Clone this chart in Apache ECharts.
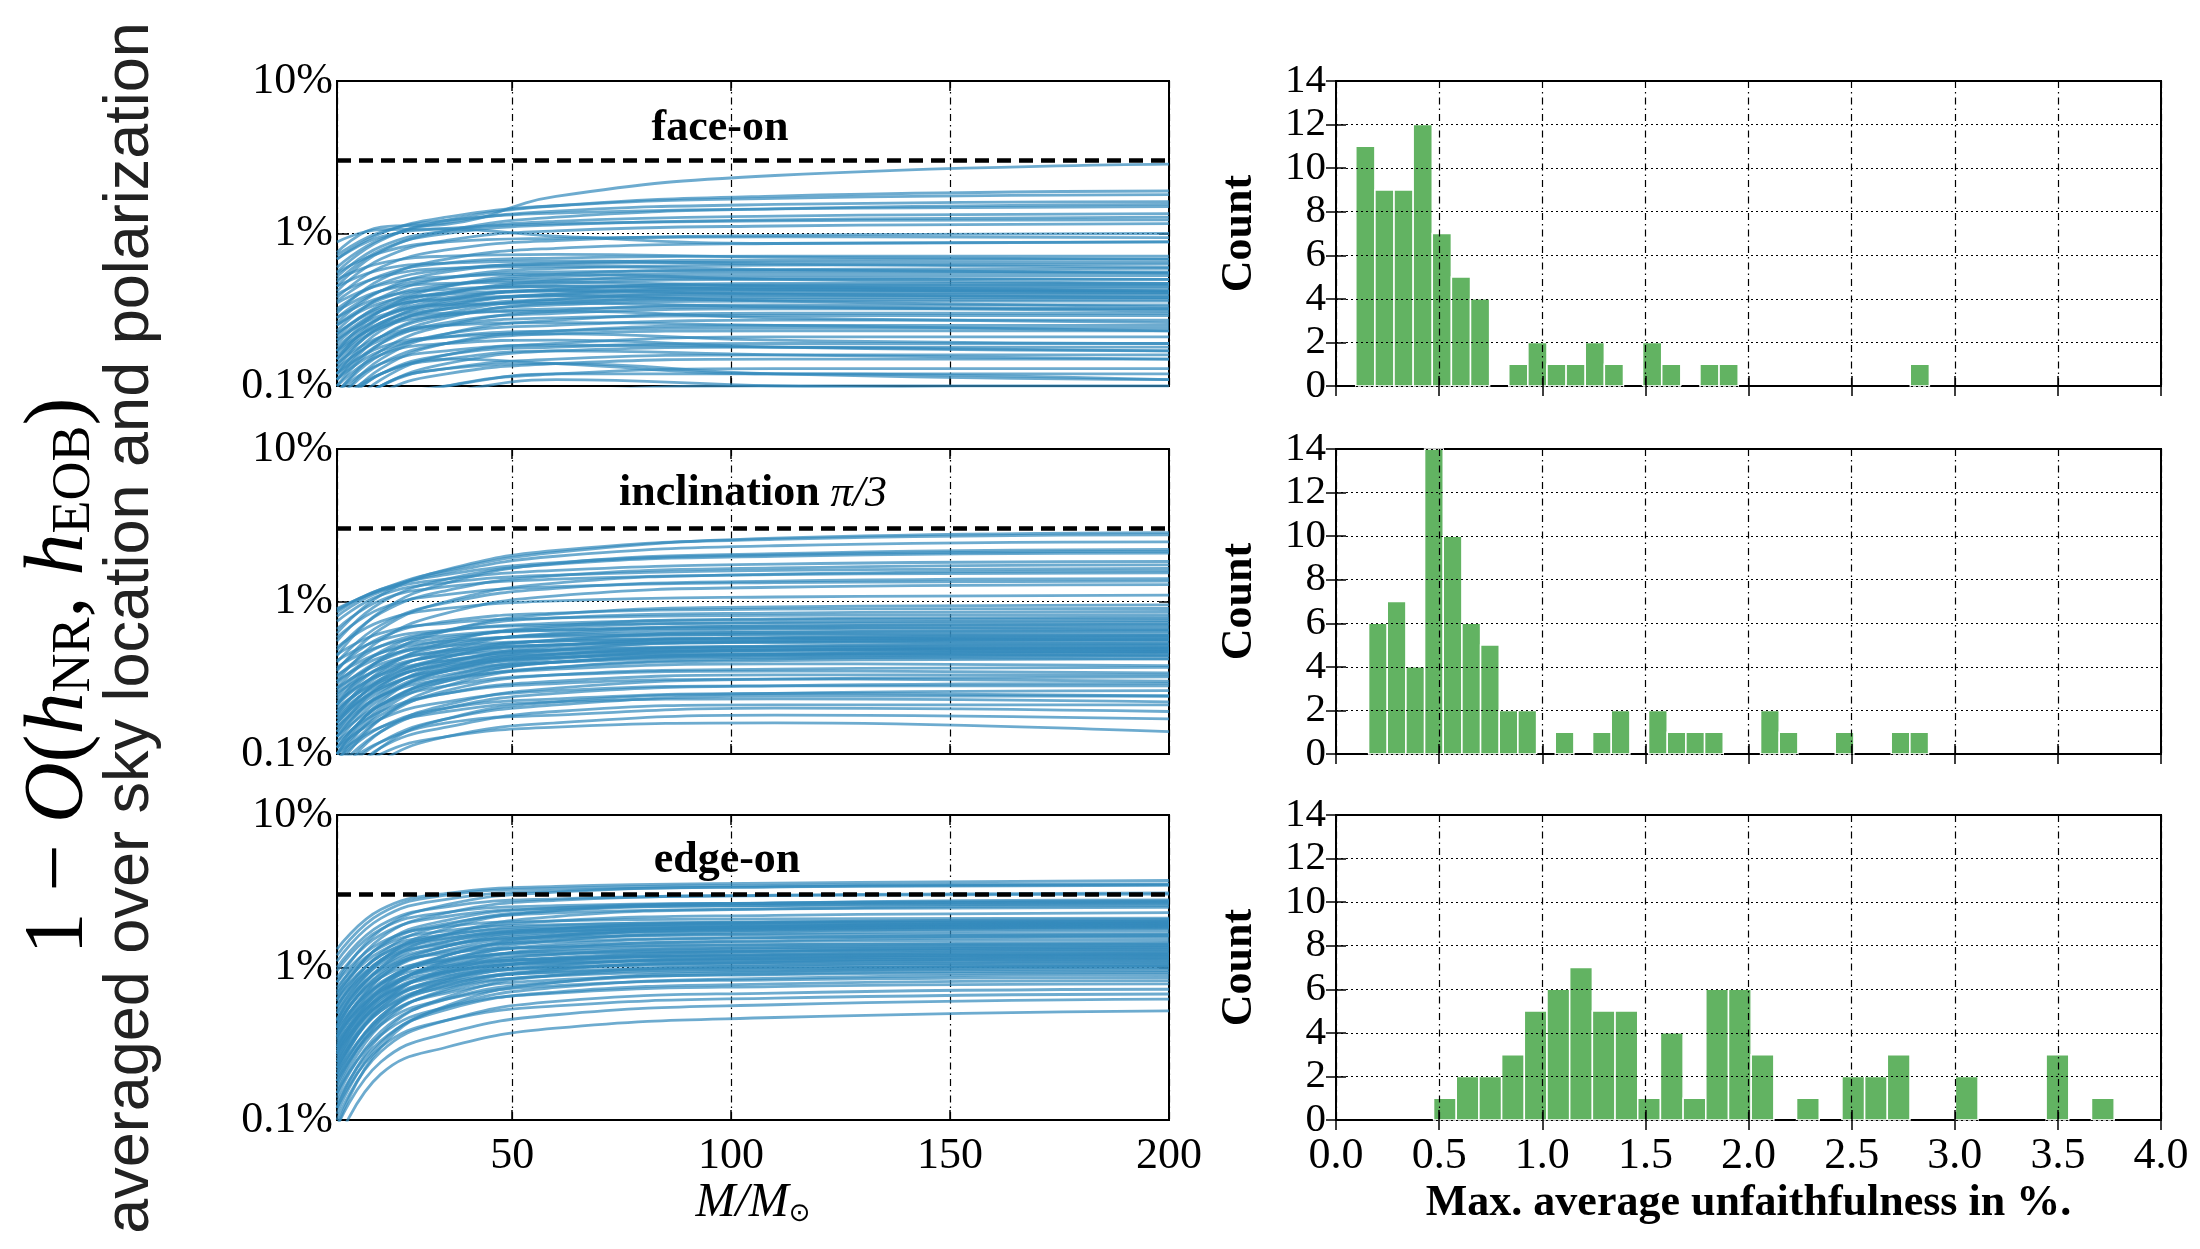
<!DOCTYPE html>
<html lang="en">
<head>
    <meta charset="UTF-8">
    <title>Unfaithfulness vs total mass</title>
    <script src="https://cdn.jsdelivr.net/npm/echarts@6/dist/echarts.min.js"></script>
    <style>
        html, body { margin: 0; padding: 0; background: #fff; }
        #chart { width: 2200px; height: 1249px; }
    </style>
</head>
<body>
<div id="chart"></div>
<script>
    const masses = [10, 20, 35, 60, 110, 200];

    // 1 - O(h_NR, h_EOB) in %, one row per NR waveform
    const faceOn = [
        [0.03, 0.05, 0.07, 0.09, 0.10, 0.10], [0.04, 0.07, 0.09, 0.11, 0.10, 0.09],
        [0.05, 0.08, 0.10, 0.12, 0.12, 0.11], [0.04, 0.07, 0.10, 0.12, 0.13, 0.13],
        [0.06, 0.10, 0.13, 0.14, 0.12, 0.11], [0.05, 0.09, 0.12, 0.14, 0.15, 0.15],
        [0.08, 0.12, 0.15, 0.14, 0.12, 0.12], [0.05, 0.10, 0.13, 0.15, 0.16, 0.16],
        [0.07, 0.12, 0.15, 0.17, 0.16, 0.15], [0.06, 0.10, 0.14, 0.17, 0.18, 0.18],
        [0.09, 0.14, 0.17, 0.185, 0.18, 0.17], [0.07, 0.12, 0.16, 0.18, 0.19, 0.19],
        [0.10, 0.16, 0.19, 0.20, 0.18, 0.17], [0.06, 0.11, 0.16, 0.19, 0.21, 0.21],
        [0.12, 0.18, 0.21, 0.22, 0.20, 0.19], [0.08, 0.14, 0.19, 0.22, 0.23, 0.23],
        [0.11, 0.17, 0.21, 0.23, 0.24, 0.24], [0.07, 0.13, 0.19, 0.23, 0.25, 0.25],
        [0.14, 0.21, 0.25, 0.26, 0.25, 0.23], [0.09, 0.16, 0.22, 0.25, 0.27, 0.27],
        [0.13, 0.20, 0.25, 0.28, 0.29, 0.29], [0.08, 0.15, 0.22, 0.27, 0.30, 0.30],
        [0.17, 0.25, 0.30, 0.31, 0.28, 0.26], [0.11, 0.19, 0.26, 0.30, 0.32, 0.32],
        [0.15, 0.24, 0.29, 0.32, 0.33, 0.32], [0.09, 0.17, 0.25, 0.31, 0.34, 0.34],
        [0.20, 0.29, 0.34, 0.35, 0.33, 0.31], [0.12, 0.21, 0.29, 0.34, 0.36, 0.36],
        [0.16, 0.26, 0.32, 0.36, 0.37, 0.37], [0.10, 0.19, 0.28, 0.35, 0.38, 0.38],
        [0.22, 0.32, 0.37, 0.39, 0.36, 0.33], [0.14, 0.24, 0.32, 0.37, 0.39, 0.39],
        [0.18, 0.28, 0.35, 0.39, 0.40, 0.40], [0.11, 0.21, 0.30, 0.37, 0.41, 0.41],
        [0.25, 0.35, 0.40, 0.42, 0.40, 0.38], [0.15, 0.26, 0.34, 0.40, 0.42, 0.42],
        [0.20, 0.31, 0.38, 0.42, 0.43, 0.42], [0.12, 0.23, 0.33, 0.40, 0.44, 0.44],
        [0.28, 0.38, 0.43, 0.45, 0.43, 0.41], [0.17, 0.28, 0.37, 0.43, 0.45, 0.45],
        [0.22, 0.33, 0.41, 0.45, 0.46, 0.46], [0.13, 0.25, 0.36, 0.43, 0.47, 0.47],
        [0.31, 0.42, 0.47, 0.48, 0.45, 0.42], [0.19, 0.31, 0.41, 0.47, 0.50, 0.50],
        [0.25, 0.37, 0.46, 0.50, 0.51, 0.50], [0.15, 0.28, 0.40, 0.49, 0.53, 0.53],
        [0.35, 0.46, 0.52, 0.54, 0.50, 0.47], [0.21, 0.34, 0.45, 0.52, 0.55, 0.55],
        [0.28, 0.42, 0.51, 0.56, 0.57, 0.56], [0.17, 0.31, 0.45, 0.54, 0.58, 0.59],
        [0.40, 0.52, 0.59, 0.61, 0.58, 0.55], [0.23, 0.38, 0.51, 0.59, 0.62, 0.63],
        [0.32, 0.47, 0.58, 0.63, 0.65, 0.65], [0.45, 0.58, 0.64, 0.66, 0.63, 0.60],
        [0.26, 0.42, 0.56, 0.64, 0.67, 0.68], [0.36, 0.53, 0.64, 0.69, 0.71, 0.71],
        [0.50, 0.64, 0.71, 0.73, 0.70, 0.68], [0.30, 0.50, 0.68, 0.80, 0.86, 0.88],
        [0.55, 0.75, 0.88, 0.93, 0.95, 0.94], [0.38, 0.60, 0.78, 0.90, 0.97, 1.00],
        [0.88, 1.06, 1.07, 0.96, 0.86, 0.88], [0.42, 0.68, 0.90, 1.04, 1.12, 1.16],
        [0.68, 0.95, 1.08, 1.16, 1.21, 1.23], [0.48, 0.78, 1.00, 1.14, 1.23, 1.28],
        [0.52, 0.82, 1.04, 1.20, 1.30, 1.35], [0.72, 1.02, 1.22, 1.36, 1.45, 1.50],
        [0.45, 0.76, 1.04, 1.28, 1.45, 1.55], [0.60, 0.92, 1.18, 1.40, 1.55, 1.62],
        [0.68, 1.00, 1.28, 1.52, 1.70, 1.80], [0.56, 0.90, 1.22, 1.52, 1.76, 1.90],
        [0.75, 1.10, 1.15, 1.75, 2.40, 2.85]
    ];

    const inclined = [
        [0.06, 0.10, 0.13, 0.15, 0.16, 0.14], [0.05, 0.09, 0.13, 0.16, 0.18, 0.17],
        [0.08, 0.12, 0.16, 0.18, 0.20, 0.19], [0.06, 0.11, 0.15, 0.19, 0.21, 0.21],
        [0.10, 0.15, 0.19, 0.22, 0.23, 0.22], [0.07, 0.12, 0.17, 0.21, 0.24, 0.24],
        [0.09, 0.15, 0.20, 0.23, 0.25, 0.24], [0.05, 0.11, 0.17, 0.22, 0.25, 0.26],
        [0.11, 0.17, 0.22, 0.26, 0.28, 0.28], [0.08, 0.14, 0.20, 0.25, 0.28, 0.29],
        [0.12, 0.19, 0.25, 0.29, 0.31, 0.30], [0.07, 0.14, 0.21, 0.27, 0.31, 0.32],
        [0.10, 0.18, 0.25, 0.30, 0.33, 0.33], [0.13, 0.21, 0.28, 0.33, 0.35, 0.34],
        [0.09, 0.17, 0.26, 0.33, 0.36, 0.37], [0.15, 0.24, 0.31, 0.36, 0.39, 0.38],
        [0.11, 0.21, 0.30, 0.37, 0.41, 0.42], [0.17, 0.27, 0.35, 0.40, 0.43, 0.42],
        [0.08, 0.17, 0.28, 0.37, 0.42, 0.44], [0.14, 0.24, 0.33, 0.40, 0.44, 0.45],
        [0.20, 0.30, 0.38, 0.43, 0.45, 0.44], [0.11, 0.21, 0.31, 0.40, 0.45, 0.46],
        [0.16, 0.27, 0.36, 0.43, 0.46, 0.47], [0.09, 0.19, 0.30, 0.40, 0.45, 0.47],
        [0.22, 0.33, 0.41, 0.46, 0.48, 0.47], [0.13, 0.24, 0.35, 0.43, 0.48, 0.49],
        [0.18, 0.29, 0.39, 0.45, 0.48, 0.49], [0.10, 0.20, 0.32, 0.42, 0.48, 0.50],
        [0.25, 0.36, 0.44, 0.48, 0.50, 0.49], [0.15, 0.26, 0.37, 0.45, 0.50, 0.51],
        [0.19, 0.31, 0.41, 0.48, 0.51, 0.52], [0.12, 0.23, 0.35, 0.45, 0.51, 0.53],
        [0.27, 0.39, 0.47, 0.52, 0.54, 0.53], [0.16, 0.28, 0.40, 0.49, 0.54, 0.55],
        [0.21, 0.34, 0.45, 0.52, 0.55, 0.56], [0.10, 0.22, 0.36, 0.48, 0.55, 0.57],
        [0.30, 0.43, 0.51, 0.55, 0.57, 0.56], [0.17, 0.30, 0.43, 0.52, 0.57, 0.58],
        [0.23, 0.37, 0.48, 0.55, 0.58, 0.59], [0.13, 0.25, 0.39, 0.51, 0.58, 0.60],
        [0.33, 0.46, 0.55, 0.59, 0.61, 0.60], [0.19, 0.33, 0.46, 0.56, 0.61, 0.62],
        [0.26, 0.41, 0.53, 0.60, 0.63, 0.64], [0.14, 0.28, 0.43, 0.56, 0.63, 0.65],
        [0.37, 0.51, 0.60, 0.65, 0.67, 0.66], [0.21, 0.37, 0.51, 0.61, 0.66, 0.68],
        [0.29, 0.46, 0.58, 0.65, 0.69, 0.70], [0.16, 0.31, 0.48, 0.62, 0.69, 0.71],
        [0.41, 0.56, 0.65, 0.70, 0.72, 0.73], [0.24, 0.41, 0.56, 0.67, 0.73, 0.75],
        [0.32, 0.51, 0.64, 0.72, 0.76, 0.77], [0.18, 0.35, 0.54, 0.69, 0.77, 0.79],
        [0.45, 0.62, 0.72, 0.78, 0.81, 0.82], [0.27, 0.47, 0.65, 0.78, 0.84, 0.86],
        [0.36, 0.58, 0.74, 0.84, 0.89, 0.90], [0.21, 0.42, 0.64, 0.83, 0.92, 0.95],
        [0.50, 0.74, 0.90, 1.01, 1.07, 1.10], [0.30, 0.56, 0.84, 1.09, 1.24, 1.29],
        [0.58, 0.90, 1.11, 1.25, 1.33, 1.36], [0.40, 0.70, 0.98, 1.22, 1.36, 1.41],
        [0.66, 1.02, 1.25, 1.40, 1.50, 1.54], [0.35, 0.66, 1.00, 1.32, 1.51, 1.59],
        [0.74, 1.10, 1.33, 1.49, 1.60, 1.65], [0.48, 0.84, 1.18, 1.48, 1.66, 1.74],
        [0.80, 1.16, 1.40, 1.60, 1.76, 1.83], [0.55, 0.98, 1.40, 1.76, 1.98, 2.08],
        [0.85, 1.20, 1.50, 1.80, 2.02, 2.13], [0.44, 0.86, 1.32, 1.78, 2.06, 2.20],
        [0.90, 1.18, 1.55, 1.98, 2.32, 2.46], [0.62, 1.10, 1.62, 2.16, 2.56, 2.74],
        [0.88, 1.20, 1.60, 2.10, 2.60, 2.83]
    ];

    const edgeOn = [
        [0.07, 0.20, 0.30, 0.40, 0.47, 0.52], [0.09, 0.24, 0.37, 0.49, 0.57, 0.62],
        [0.12, 0.30, 0.45, 0.56, 0.63, 0.67], [0.10, 0.28, 0.45, 0.60, 0.68, 0.72],
        [0.15, 0.36, 0.55, 0.68, 0.75, 0.78], [0.13, 0.33, 0.53, 0.69, 0.78, 0.82],
        [0.18, 0.42, 0.62, 0.76, 0.83, 0.86], [0.11, 0.32, 0.55, 0.74, 0.85, 0.90],
        [0.20, 0.46, 0.68, 0.83, 0.90, 0.93], [0.14, 0.38, 0.62, 0.80, 0.91, 0.95],
        [0.24, 0.52, 0.74, 0.88, 0.95, 0.98], [0.09, 0.30, 0.56, 0.80, 0.94, 1.00],
        [0.28, 0.58, 0.80, 0.93, 0.99, 1.02], [0.17, 0.44, 0.70, 0.89, 0.98, 1.03],
        [0.22, 0.52, 0.77, 0.94, 1.01, 1.05], [0.32, 0.64, 0.88, 1.00, 1.05, 1.07],
        [0.12, 0.36, 0.64, 0.89, 1.03, 1.09], [0.26, 0.58, 0.84, 1.00, 1.08, 1.11],
        [0.19, 0.48, 0.76, 0.97, 1.08, 1.13], [0.36, 0.70, 0.94, 1.07, 1.12, 1.14],
        [0.15, 0.42, 0.72, 0.97, 1.10, 1.16], [0.30, 0.64, 0.92, 1.08, 1.15, 1.18],
        [0.22, 0.54, 0.84, 1.04, 1.14, 1.19], [0.40, 0.78, 1.02, 1.14, 1.19, 1.21],
        [0.18, 0.48, 0.80, 1.03, 1.16, 1.22], [0.27, 0.62, 0.92, 1.12, 1.20, 1.24],
        [0.34, 0.72, 0.99, 1.15, 1.22, 1.25], [0.21, 0.54, 0.87, 1.10, 1.22, 1.28],
        [0.44, 0.86, 1.12, 1.24, 1.28, 1.30], [0.25, 0.60, 0.94, 1.16, 1.27, 1.32],
        [0.31, 0.70, 1.02, 1.22, 1.31, 1.35], [0.16, 0.46, 0.82, 1.12, 1.28, 1.36],
        [0.38, 0.80, 1.10, 1.28, 1.35, 1.39], [0.23, 0.58, 0.95, 1.22, 1.35, 1.41],
        [0.50, 0.96, 1.24, 1.36, 1.41, 1.43], [0.29, 0.68, 1.05, 1.30, 1.41, 1.46],
        [0.35, 0.78, 1.14, 1.38, 1.48, 1.52], [0.20, 0.56, 0.98, 1.34, 1.50, 1.58],
        [0.42, 0.90, 1.28, 1.48, 1.57, 1.61], [0.27, 0.66, 1.08, 1.42, 1.57, 1.64],
        [0.56, 1.10, 1.42, 1.58, 1.64, 1.67], [0.33, 0.78, 1.20, 1.52, 1.67, 1.74],
        [0.46, 0.98, 1.38, 1.64, 1.75, 1.80], [0.24, 0.64, 1.10, 1.50, 1.72, 1.82],
        [0.62, 1.20, 1.56, 1.74, 1.81, 1.84], [0.37, 0.86, 1.30, 1.62, 1.78, 1.86],
        [0.52, 1.06, 1.48, 1.72, 1.83, 1.88], [0.30, 0.74, 1.20, 1.58, 1.80, 1.90],
        [0.68, 1.28, 1.64, 1.82, 1.88, 1.91], [0.41, 0.92, 1.38, 1.70, 1.86, 1.93],
        [0.56, 1.12, 1.54, 1.79, 1.90, 1.95], [0.28, 0.72, 1.20, 1.62, 1.86, 1.97],
        [0.74, 1.36, 1.74, 1.91, 1.97, 1.99], [0.45, 1.00, 1.48, 1.80, 1.95, 2.01],
        [0.60, 1.20, 1.62, 1.88, 1.99, 2.03], [0.35, 0.86, 1.38, 1.78, 1.98, 2.07],
        [0.80, 1.46, 1.86, 2.02, 2.08, 2.11], [0.50, 1.12, 1.66, 2.02, 2.20, 2.29],
        [0.66, 1.38, 1.94, 2.28, 2.42, 2.48], [0.40, 1.00, 1.64, 2.16, 2.42, 2.54],
        [0.86, 1.64, 2.16, 2.44, 2.55, 2.60], [0.55, 1.24, 1.90, 2.36, 2.56, 2.65],
        [0.95, 1.78, 2.30, 2.54, 2.64, 2.69], [0.62, 1.40, 2.04, 2.46, 2.65, 2.73],
        [0.45, 1.10, 1.80, 2.36, 2.64, 2.77], [1.00, 1.90, 2.50, 2.82, 2.96, 3.03],
        [0.70, 1.56, 2.28, 2.76, 2.98, 3.09], [1.10, 2.10, 2.80, 3.18, 3.38, 3.46],
        [0.80, 1.76, 2.58, 3.12, 3.38, 3.50], [1.20, 2.26, 2.98, 3.30, 3.46, 3.54],
        [1.32, 2.40, 3.06, 3.40, 3.58, 3.72]
    ];

    const thresholdPct = 3;

    // histograms of the maximum unfaithfulness (30 bins each)
    const faceBinStart = 0.096, faceBinWidth = 0.0927;
    const faceCounts = [11, 9, 9, 12, 7, 5, 4, 0, 1, 2, 1, 1, 2, 1, 0, 2, 1, 0, 1, 1, 0, 0, 0, 0, 0, 0, 0, 0, 0, 1];
    const inclBinStart = 0.158, inclBinWidth = 0.0905;
    const inclCounts = [6, 7, 4, 14, 10, 6, 5, 2, 2, 0, 1, 0, 1, 2, 0, 2, 1, 1, 1, 0, 0, 2, 1, 0, 0, 1, 0, 0, 1, 1];
    const edgeBinStart = 0.473, edgeBinWidth = 0.11;
    const edgeCounts = [1, 2, 2, 3, 5, 6, 7, 5, 5, 1, 4, 1, 6, 6, 3, 0, 1, 0, 2, 2, 3, 0, 0, 2, 0, 0, 0, 3, 0, 1];

    const panelTitles = ['face-on', 'inclination', 'edge-on'];

    const chart = echarts.init(document.getElementById('chart'), null, {renderer: 'canvas'});

    const SERIF = 'Liberation Serif';
    const lineBlue = '#348ABD';
    const barGreen = '#62b362';
    const tops = [81, 449, 815];
    const panelH = 305;

    const grids = [];
    const xAxes = [];
    const yAxes = [];
    const extraX = [];
    const extraY = [];
    const series = [];

    const labelStyle = {fontFamily: SERIF, fontSize: 44, color: '#000', hideOverlap: false};
    const dashDot = [7, 4, 1.5, 4];
    const tickStyle = {show: true, inside: true, length: 10, lineStyle: {color: '#000', width: 1.5}};

    // mirror axes: ticks only, on the top and right spines
    function mirrorX(g, base) {
        return Object.assign({}, base, {gridIndex: g, position: 'top', name: '',
            axisLabel: {show: false}, splitLine: {show: false}, axisTick: tickStyle});
    }
    function mirrorY(g, base) {
        return Object.assign({}, base, {gridIndex: g, position: 'right', name: '',
            axisLabel: {show: false}, splitLine: {show: false}, axisTick: tickStyle});
    }

    tops.forEach(function (top, i) {
        grids.push({left: 337, top: top, width: 832, height: panelH,
            show: true, borderColor: '#000', borderWidth: 2, backgroundColor: 'transparent'});
        const xBase = {type: 'value', min: 10, max: 200, splitNumber: 4, axisLine: {show: false}};
        const yBase = {type: 'log', min: 0.1, max: 10, logBase: 10, axisLine: {show: false}};
        xAxes.push(Object.assign({}, xBase, {
            gridIndex: i,
            axisTick: tickStyle,
            axisLabel: Object.assign({show: i === 2, margin: 14, showMinLabel: false, showMaxLabel: true}, labelStyle),
            splitLine: {show: true, lineStyle: {color: '#000', width: 1.2, type: dashDot}},
            name: i === 2 ? '{i|M/M}{s|⊙}' : '',
            nameLocation: 'middle', nameGap: 56,
            nameTextStyle: {rich: {
                i: {fontFamily: SERIF, fontStyle: 'italic', fontSize: 48, color: '#000'},
                s: {fontFamily: 'DejaVu Sans', fontSize: 26, color: '#000', verticalAlign: 'bottom', padding: [18, 0, 0, 0]}
            }}
        }));
        yAxes.push(Object.assign({}, yBase, {
            gridIndex: i,
            axisTick: Object.assign({}, tickStyle, {length: 12}),
            axisLabel: Object.assign({margin: 4, showMinLabel: true, showMaxLabel: true,
                formatter: function (v) { return v + '%'; }}, labelStyle),
            splitLine: {show: true, lineStyle: {color: '#000', width: 1.2, type: [2, 3]}}
        }));
        extraX.push(mirrorX(i, xBase));
        extraY.push(mirrorY(i, yBase));
    });

    tops.forEach(function (top, i) {
        const g = i + 3;
        grids.push({left: 1336, top: top, width: 825, height: panelH,
            show: true, borderColor: '#000', borderWidth: 2, backgroundColor: 'transparent'});
        const xBase = {type: 'value', min: 0, max: 4, interval: 0.5, z: 3, axisLine: {show: false}};
        const yBase = {type: 'value', min: 0, max: 14, interval: 2, z: 3, axisLine: {show: false}};
        xAxes.push(Object.assign({}, xBase, {
            gridIndex: g,
            axisTick: tickStyle,
            axisLabel: Object.assign({show: i === 2, margin: 14, showMinLabel: true, showMaxLabel: true,
                formatter: function (v) { return v.toFixed(1); }}, labelStyle),
            splitLine: {show: true, lineStyle: {color: '#000', width: 1.2, type: dashDot}},
            name: i === 2 ? 'Max. average unfaithfulness in %.' : '',
            nameLocation: 'middle', nameGap: 62,
            nameTextStyle: {fontFamily: SERIF, fontWeight: 'bold', fontSize: 44, color: '#000'}
        }));
        yAxes.push(Object.assign({}, yBase, {
            gridIndex: g,
            axisTick: tickStyle,
            axisLabel: Object.assign({}, labelStyle, {margin: 10, fontSize: 41, lineHeight: 36,
                showMinLabel: true, showMaxLabel: true}),
            splitLine: {show: true, lineStyle: {color: '#000', width: 1.2, type: [2, 3]}},
            name: 'Count', nameLocation: 'middle', nameGap: 74, nameRotate: 90,
            nameTextStyle: {fontFamily: SERIF, fontWeight: 'bold', fontSize: 44, color: '#000'}
        }));
        extraX.push(mirrorX(g, xBase));
        extraY.push(mirrorY(g, yBase));
    });

    [faceOn, inclined, edgeOn].forEach(function (curves, g) {
        curves.forEach(function (row) {
            series.push({
                type: 'line', xAxisIndex: g, yAxisIndex: g,
                data: masses.map(function (m, k) { return [m, row[k]]; }),
                smooth: 0.45, symbol: 'none', silent: true,
                lineStyle: {color: lineBlue, width: 2.8, opacity: 0.72}
            });
        });
        series.push({
            type: 'line', xAxisIndex: g, yAxisIndex: g, data: [], z: 5, silent: true,
            markLine: {
                symbol: 'none', silent: true, animation: false, label: {show: false},
                lineStyle: {color: '#000', width: 4.5, type: [14, 8]},
                data: [{yAxis: thresholdPct}]
            }
        });
    });

    function histogram(g, start, width, counts) {
        const data = [];
        counts.forEach(function (c, k) {
            if (c > 0) data.push([start + k * width, start + (k + 1) * width, c]);
        });
        return {
            type: 'custom', xAxisIndex: g, yAxisIndex: g, silent: true, z: 1,
            encode: {x: [0, 1], y: 2},
            data: data,
            renderItem: function (params, api) {
                const p0 = api.coord([api.value(0), api.value(2)]);
                const p1 = api.coord([api.value(1), 0]);
                return {
                    type: 'rect',
                    shape: {x: p0[0], y: p0[1], width: p1[0] - p0[0], height: p1[1] - p0[1]},
                    style: {fill: barGreen, stroke: '#fff', lineWidth: 1.5}
                };
            }
        };
    }
    series.push(histogram(3, faceBinStart, faceBinWidth, faceCounts));
    series.push(histogram(4, inclBinStart, inclBinWidth, inclCounts));
    series.push(histogram(5, edgeBinStart, edgeBinWidth, edgeCounts));

    const titleFont = {fontFamily: SERIF, fontWeight: 'bold', fontSize: 44, fill: '#000'};

    const graphic = [
        {type: 'text', x: 720, y: 129, style: Object.assign({text: panelTitles[0], align: 'center', verticalAlign: 'middle'}, titleFont)},
        {type: 'text', x: 753, y: 494, style: {
            text: '{b|' + panelTitles[1] + ' }{m|π/3}', align: 'center', verticalAlign: 'middle',
            rich: {
                b: titleFont,
                m: {fontFamily: SERIF, fontStyle: 'italic', fontSize: 44, fill: '#000'}
            }}},
        {type: 'text', x: 727, y: 861, style: Object.assign({text: panelTitles[2], align: 'center', verticalAlign: 'middle'}, titleFont)},
        {type: 'text', x: 60, y: 676, rotation: Math.PI / 2, style: {
            text: '{n|1 − }{i|O}{n|(}{i|h}{s|NR}{n|, }{i|h}{s|EOB}{n|)}',
            align: 'center', verticalAlign: 'middle',
            rich: {
                n: {fontFamily: SERIF, fontSize: 84, fill: '#000'},
                i: {fontFamily: SERIF, fontStyle: 'italic', fontSize: 84, fill: '#000'},
                s: {fontFamily: SERIF, fontSize: 54, fill: '#000', verticalAlign: 'bottom'}
            }}},
        {type: 'text', x: 131, y: 628, rotation: Math.PI / 2, style: {
            text: 'averaged over sky location and polarization',
            align: 'center', verticalAlign: 'middle',
            fontFamily: 'Liberation Sans', fontSize: 63, fill: '#222'
        }}
    ];

    chart.setOption({
        animation: false,
        backgroundColor: '#fff',
        grid: grids,
        xAxis: xAxes.concat(extraX),
        yAxis: yAxes.concat(extraY),
        series: series,
        graphic: graphic
    });
</script>
</body>
</html>
